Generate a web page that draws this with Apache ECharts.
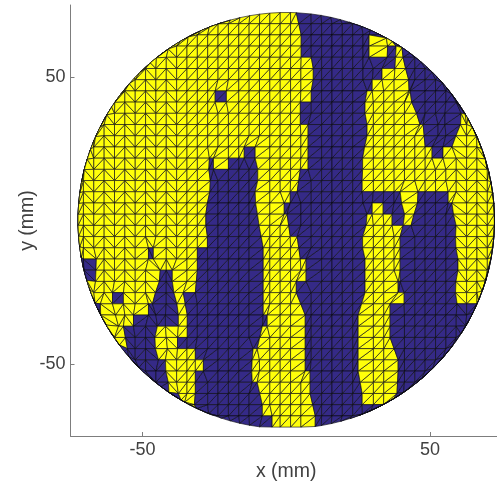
<!DOCTYPE html>
<html><head><meta charset="utf-8">
<style>html,body{margin:0;padding:0;background:#fff;overflow:hidden}#c{width:497px;height:481px}</style>
<script src="https://cdn.jsdelivr.net/npm/echarts@6/dist/echarts.min.js"></script>
</head><body><div id="c"></div>
<script>
const tickValues=[-50,50];
const xLabel='x (mm)', yLabel='y (mm)';
const discRadius=72.4, rowTop=72.4, rowStep=3.9, colStep=3.6, colOrigin=5.1;
// yellow x-intervals (mm) for each mesh row, top to bottom; everything else in the disc is the dark state
const yellowRows=[
[-80,3.5],
[-80,5.2],
[-80,5.2,28.8,35.4,36.1,38.2],
[-80,5.2,28.8,35.1,38.2,40.6],
[-80,8.7,37.8,40.6],
[-80,10.1,33.3,42.4],
[-80,8.7,29.9,42.7],
[-80,-24.7,-20.8,8.7,28.1,43.1],
[-80,4.9,26.7,44.1],
[-80,4.9,28.1,46.5,53.8,55.2,60.8,80],
[-80,7.6,28.1,47.6,51,52.8,60.4,80],
[-80,7.6,28.1,48.3,57.6,80],
[-80,-14.6,-10.8,7.6,26.4,50.7,54.5,80],
[-80,-26.7,-25.3,-20.1,-10.8,7.6,26.7,80],
[-80,-27.1,-9,4.9,26.4,80],
[-80,-25.7,-10.8,3.8,26.4,80],
[-80,-27.4,-10.8,1.4,39.6,45.8,56.3,80],
[-80,-27.4,-10.5,-0.7,29.9,33.7,40.6,45.5,57.6,80],
[-80,-28.5,-9.5,0.3,28.1,36.8,41.7,43.4,58.7,80],
[-80,-27.4,-9.4,1.4,27.4,39.6,59.4,80],
[-80,-27.4,-8,3.8,25.7,39.6,58.3,80],
[-80,-47.9,-46.2,-30.9,-8,4.9,27.4,39.6,59.7,80],
[-66,-30.9,-8,6.9,27.4,39.6,59.7,80],
[-66.3,-43.8,-39.6,-30.9,-8,6.9,27.4,39.6,59.7,80],
[-80,-44.4,-39.6,-31.6,-8,3.5,27.4,38.9,58.3,80],
[-80,-60.4,-56.6,-46.5,-38.5,-35.8,-8,3.5,27.4,41,59.4,80],
[-64.6,-60.4,-58.3,-47.9,-37.5,-34.4,-8,6.6,25,36.1],
[-80,-61.1,-58.3,-53.1,-42,-40.6,-37.5,-34.4,-6.6,6.6,25,36.1],
[-80,-56.6,-44.8,-34.4,-8.3,6.6,25,36.1],
[-80,-55.2,-46.5,-37.8,-10.1,6.6,25,36.1],
[-44.4,-41.3,-40.3,-31.6,-11.5,6.6,25,38.9],
[-42.7,-28.8,-12.2,6.6,25,38.9],
[-41,-31.6,-11.8,8.3,25,38.9],
[-41,-31.6,-10.1,8.3,26.4,38.5],
[-37.5,-31.6,-8.3,8.3,26.4,38.5],
[-35.8,-32.3,-8.3,10.1],
[-4.9,10.1]
];
function isYellow(row,x){
  const r=yellowRows[row]||[];
  for(let i=0;i<r.length;i+=2){if(x>=r[i]&&x<r[i+1])return 1;}
  return 0;
}
function nearestEnd(row,x){
  const r=yellowRows[row]||[];let best=null,bd=colStep*0.5;
  for(const e of r){const d=Math.abs(e-x);if(d<bd){bd=d;best=e;}}
  return best;
}
// the mesh bends so that its edges follow the state boundaries read for the rows beside each node
function nodeX(c,b){
  const x=colOrigin+c*colStep;
  const a=nearestEnd(b-1,x),d=nearestEnd(b,x);
  if(a!==null&&d!==null)return (a+d)/2;
  if(a!==null)return a;
  if(d!==null)return d;
  return x;
}
function snap(x,y){
  const d=Math.hypot(x,y);
  if(d<=discRadius)return [x,y];
  return [x*discRadius/d,y*discRadius/d];
}
const tris=[];
for(let row=0;row<yellowRows.length;row++){
  const yT=rowTop-row*rowStep,yB=yT-rowStep;
  for(let c=-24;c<=20;c++){
    const xl=colOrigin+c*colStep;
    const A=[nodeX(c,row+1),yB],B=[nodeX(c+1,row+1),yB],C=[nodeX(c+1,row),yT],D=[nodeX(c,row),yT];
    const flip=(xl<-38||xl>58)&&(((c%2)+2)%2===1);
    const set=flip?[[A,B,D],[B,C,D]]:[[A,B,C],[A,C,D]];
    const cx=(A[0]+B[0]+C[0]+D[0])/4;
    const state=isYellow(row,cx);
    for(const t of set){
      const m=Math.min(...t.map(p=>Math.hypot(p[0],p[1])));
      if(m>discRadius+4.5)continue;
      const s=t.map(p=>snap(p[0],p[1]));
      tris.push([s[0][0],s[0][1],s[1][0],s[1][1],s[2][0],s[2][1],state]);
    }
  }
}
const chart=echarts.init(document.getElementById('c'),null,{renderer:'canvas'});
const axisGray='#7d7d7d',textGray='#404040',font='"Liberation Sans",Arial,sans-serif';
function axis(name,gap){
  return {type:'value',min:-75,max:75,name:name,nameLocation:'middle',nameGap:gap,nameMoveOverlap:false,
    nameTextStyle:{fontSize:19.5,color:textGray,fontFamily:font},
    splitLine:{show:false},
    axisLine:{show:true,onZero:false,lineStyle:{color:axisGray,width:1}},
    axisTick:{show:true,inside:true,length:4,customValues:tickValues,lineStyle:{color:axisGray,width:1}},
    axisLabel:{show:true,customValues:tickValues,fontSize:18,color:textGray,fontFamily:font,margin:5}};
}
chart.setOption({
  animation:false,
  grid:{left:70.5,top:5,width:431.5,height:431,containLabel:false,outerBoundsMode:'none'},
  xAxis:axis(xLabel,26),
  yAxis:axis(yLabel,33),
  series:[{
    type:'custom',coordinateSystem:'cartesian2d',clip:false,progressive:0,silent:true,
    encode:{x:[0,2,4],y:[1,3,5]},
    data:tris,
    renderItem:function(params,api){
      const p=[api.coord([api.value(0),api.value(1)]),api.coord([api.value(2),api.value(3)]),api.coord([api.value(4),api.value(5)])];
      return {type:'polygon',shape:{points:p},style:{fill:api.value(6)?'#ffff0a':'#352a87',stroke:'#0c0c14',lineWidth:0.65}};
    }
  }]
});
</script></body></html>
